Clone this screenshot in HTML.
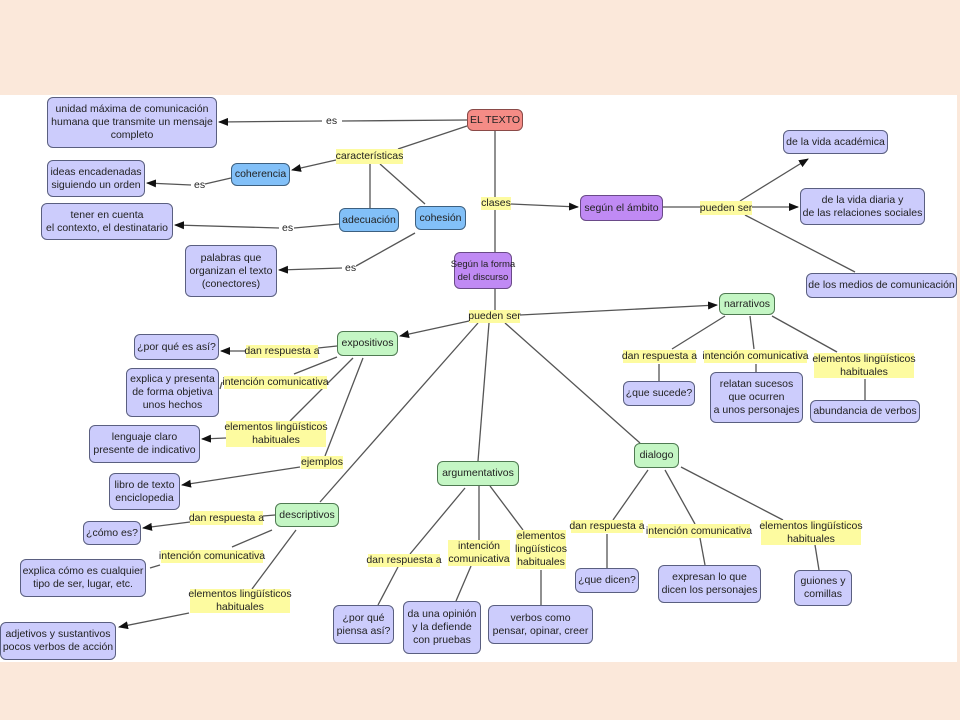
<!DOCTYPE html>
<html><head><meta charset="utf-8"><style>
body{margin:0;width:960px;height:720px;background:#fbe8da;position:relative;overflow:hidden;font-family:"Liberation Sans",sans-serif;font-size:10.5px;color:#222}
#w{position:absolute;left:0;top:95px;width:957px;height:567px;background:#fff}
svg{position:absolute;left:0;top:0}
.n{position:absolute;box-sizing:border-box;border:1.5px solid #5a5f80;border-radius:6px;display:flex;align-items:center;justify-content:center;text-align:center;line-height:13px;background:#ccccfc;white-space:nowrap}
.r{background:#f48c86;border-color:#8a4a48}.b{background:#82c0f8;border-color:#3d6080}.p{background:#c08af4;border-color:#6a4a88}.g{background:#c4f6c4;border-color:#4f7a52}
.l{position:absolute;background:#fdfba0;text-align:center;line-height:13px;white-space:nowrap;display:flex;align-items:center;justify-content:center}
.t{position:absolute;background:#fff;line-height:13px}
</style></head><body>
<div id="w"></div>
<svg width="960" height="720">
<defs><marker id="a" markerWidth="10" markerHeight="8" refX="9" refY="4" orient="auto" markerUnits="userSpaceOnUse"><path d="M0,0L10,4L0,8z" fill="#111"/></marker></defs>
<g stroke="#555" stroke-width="1.3" fill="none">
<line x1="467" y1="120" x2="342" y2="121"/><line x1="322" y1="121" x2="219" y2="122" marker-end="url(#a)"/>
<line x1="467" y1="126" x2="398" y2="149"/><line x1="336" y1="160" x2="292" y2="170" marker-end="url(#a)"/>
<line x1="370" y1="164" x2="370" y2="208"/><line x1="380" y1="164" x2="425" y2="204"/>
<line x1="231" y1="178" x2="205" y2="184"/><line x1="191" y1="185" x2="147" y2="183" marker-end="url(#a)"/>
<line x1="339" y1="224" x2="294" y2="228"/><line x1="279" y1="228" x2="175" y2="225" marker-end="url(#a)"/>
<line x1="415" y1="233" x2="356" y2="266"/><line x1="342" y1="268" x2="279" y2="270" marker-end="url(#a)"/>
<line x1="495" y1="131" x2="495" y2="197"/><line x1="495" y1="210" x2="495" y2="252"/>
<line x1="511" y1="204" x2="578" y2="207" marker-end="url(#a)"/>
<line x1="663" y1="207" x2="700" y2="207"/><line x1="752" y1="207" x2="798" y2="207" marker-end="url(#a)"/>
<line x1="740" y1="201" x2="808" y2="159" marker-end="url(#a)"/><line x1="745" y1="215" x2="855" y2="272"/>
<line x1="495" y1="289" x2="495" y2="310"/>
<line x1="520" y1="315" x2="717" y2="305" marker-end="url(#a)"/>
<line x1="469" y1="321" x2="400" y2="336" marker-end="url(#a)"/>
<line x1="489" y1="323" x2="478" y2="461"/>
<line x1="478" y1="323" x2="320" y2="502"/>
<line x1="505" y1="323" x2="640" y2="443"/>
<line x1="337" y1="346" x2="318" y2="348"/><line x1="246" y1="351" x2="221" y2="351" marker-end="url(#a)"/>
<line x1="337" y1="357" x2="294" y2="374"/><line x1="222" y1="382" x2="220" y2="389"/>
<line x1="353" y1="358" x2="290" y2="421"/><line x1="226" y1="438" x2="202" y2="439" marker-end="url(#a)"/>
<line x1="363" y1="358" x2="325" y2="456"/><line x1="300" y1="467" x2="182" y2="485" marker-end="url(#a)"/>
<line x1="275" y1="515" x2="263" y2="516"/><line x1="190" y1="522" x2="143" y2="528" marker-end="url(#a)"/>
<line x1="272" y1="530" x2="232" y2="547"/><line x1="160" y1="565" x2="150" y2="568"/>
<line x1="296" y1="530" x2="252" y2="589"/><line x1="189" y1="613" x2="119" y2="627" marker-end="url(#a)"/>
<line x1="465" y1="488" x2="410" y2="554"/><line x1="398" y1="567" x2="378" y2="605"/>
<line x1="479" y1="486" x2="479" y2="540"/><line x1="471" y1="566" x2="456" y2="601"/>
<line x1="490" y1="486" x2="523" y2="530"/><line x1="541" y1="570" x2="541" y2="605"/>
<line x1="648" y1="470" x2="613" y2="520"/><line x1="607" y1="534" x2="607" y2="568"/>
<line x1="665" y1="470" x2="695" y2="524"/><line x1="700" y1="538" x2="705" y2="565"/>
<line x1="681" y1="467" x2="783" y2="520"/><line x1="815" y1="545" x2="819" y2="570"/>
<line x1="725" y1="316" x2="672" y2="349"/><line x1="659" y1="364" x2="659" y2="381"/>
<line x1="750" y1="316" x2="754" y2="349"/><line x1="756" y1="364" x2="756" y2="372"/>
<line x1="772" y1="316" x2="837" y2="352"/><line x1="865" y1="379" x2="865" y2="400"/>
</g></svg>
<div class="n" style="left:47px;top:97px;width:170px;height:51px">unidad máxima de comunicación<br>humana que transmite un mensaje<br>completo</div>
<div class="n r" style="left:467px;top:109px;width:56px;height:22px">EL TEXTO</div>
<div class="t" style="left:326px;top:115px">es</div>
<div class="l" style="left:336px;top:149px;width:67px;height:15px">características</div>
<div class="n b" style="left:231px;top:163px;width:59px;height:23px">coherencia</div>
<div class="n" style="left:47px;top:160px;width:98px;height:37px">ideas encadenadas<br>siguiendo un orden</div>
<div class="t" style="left:194px;top:179px">es</div>
<div class="n" style="left:41px;top:203px;width:132px;height:37px">tener en cuenta<br>el contexto, el destinatario</div>
<div class="t" style="left:282px;top:222px">es</div>
<div class="n b" style="left:339px;top:208px;width:60px;height:24px">adecuación</div>
<div class="n b" style="left:415px;top:206px;width:51px;height:24px">cohesión</div>
<div class="n" style="left:185px;top:245px;width:92px;height:52px">palabras que<br>organizan el texto<br>(conectores)</div>
<div class="t" style="left:345px;top:262px">es</div>
<div class="n p" style="left:454px;top:252px;width:58px;height:37px;font-size:9.5px">Según la forma<br>del discurso</div>
<div class="l" style="left:481px;top:197px;width:30px;height:13px">clases</div>
<div class="n p" style="left:580px;top:195px;width:83px;height:26px">según el ámbito</div>
<div class="l" style="left:700px;top:201px;width:52px;height:14px">pueden ser</div>
<div class="n" style="left:783px;top:130px;width:105px;height:24px">de la vida académica</div>
<div class="n" style="left:800px;top:188px;width:125px;height:37px">de la vida diaria y<br>de las relaciones sociales</div>
<div class="n" style="left:806px;top:273px;width:151px;height:25px">de los medios de comunicación</div>
<div class="l" style="left:469px;top:310px;width:51px;height:13px">pueden ser</div>
<div class="n g" style="left:719px;top:293px;width:56px;height:22px">narrativos</div>
<div class="n g" style="left:337px;top:331px;width:61px;height:25px">expositivos</div>
<div class="n" style="left:134px;top:334px;width:85px;height:26px">¿por qué es así?</div>
<div class="l" style="left:246px;top:345px;width:72px;height:13px">dan respuesta a</div>
<div class="l" style="left:224px;top:376px;width:103px;height:13px">intención comunicativa</div>
<div class="n" style="left:126px;top:368px;width:93px;height:49px">explica y presenta<br>de forma objetiva<br>unos hechos</div>
<div class="l" style="left:226px;top:421px;width:100px;height:26px">elementos lingüísticos<br>habituales</div>
<div class="n" style="left:89px;top:425px;width:111px;height:38px">lenguaje claro<br>presente de indicativo</div>
<div class="l" style="left:301px;top:456px;width:42px;height:13px">ejemplos</div>
<div class="n" style="left:109px;top:473px;width:71px;height:37px">libro de texto<br>enciclopedia</div>
<div class="n g" style="left:275px;top:503px;width:64px;height:24px">descriptivos</div>
<div class="n" style="left:83px;top:521px;width:58px;height:24px">¿cómo es?</div>
<div class="l" style="left:190px;top:511px;width:73px;height:14px">dan respuesta a</div>
<div class="l" style="left:161px;top:550px;width:102px;height:13px">intención comunicativa</div>
<div class="n" style="left:20px;top:559px;width:126px;height:38px">explica cómo es cualquier<br>tipo de ser, lugar, etc.</div>
<div class="l" style="left:190px;top:589px;width:100px;height:24px">elementos lingüísticos<br>habituales</div>
<div class="n" style="left:0px;top:622px;width:116px;height:38px">adjetivos y sustantivos<br>pocos verbos de acción</div>
<div class="n g" style="left:437px;top:461px;width:82px;height:25px">argumentativos</div>
<div class="l" style="left:368px;top:554px;width:72px;height:13px">dan respuesta a</div>
<div class="l" style="left:448px;top:540px;width:62px;height:26px">intención<br>comunicativa</div>
<div class="l" style="left:516px;top:530px;width:50px;height:39px">elementos<br>lingüísticos<br>habituales</div>
<div class="n" style="left:333px;top:605px;width:61px;height:39px">¿por qué<br>piensa así?</div>
<div class="n" style="left:403px;top:601px;width:78px;height:53px">da una opinión<br>y la defiende<br>con pruebas</div>
<div class="n" style="left:488px;top:605px;width:105px;height:39px">verbos como<br>pensar, opinar, creer</div>
<div class="n g" style="left:634px;top:443px;width:45px;height:25px">dialogo</div>
<div class="l" style="left:571px;top:520px;width:72px;height:13px">dan respuesta a</div>
<div class="l" style="left:648px;top:524px;width:102px;height:14px">intención comunicativa</div>
<div class="l" style="left:761px;top:520px;width:100px;height:25px">elementos lingüísticos<br>habituales</div>
<div class="n" style="left:575px;top:568px;width:64px;height:25px">¿que dicen?</div>
<div class="n" style="left:658px;top:565px;width:103px;height:38px">expresan lo que<br>dicen los personajes</div>
<div class="n" style="left:794px;top:570px;width:58px;height:36px">guiones y<br>comillas</div>
<div class="l" style="left:623px;top:350px;width:73px;height:13px">dan respuesta a</div>
<div class="l" style="left:704px;top:350px;width:103px;height:13px">intención comunicativa</div>
<div class="l" style="left:814px;top:353px;width:100px;height:25px">elementos lingüísticos<br>habituales</div>
<div class="n" style="left:623px;top:381px;width:72px;height:25px">¿que sucede?</div>
<div class="n" style="left:710px;top:372px;width:93px;height:51px">relatan sucesos<br>que ocurren<br>a unos personajes</div>
<div class="n" style="left:810px;top:400px;width:110px;height:23px">abundancia de verbos</div>
</body></html>
